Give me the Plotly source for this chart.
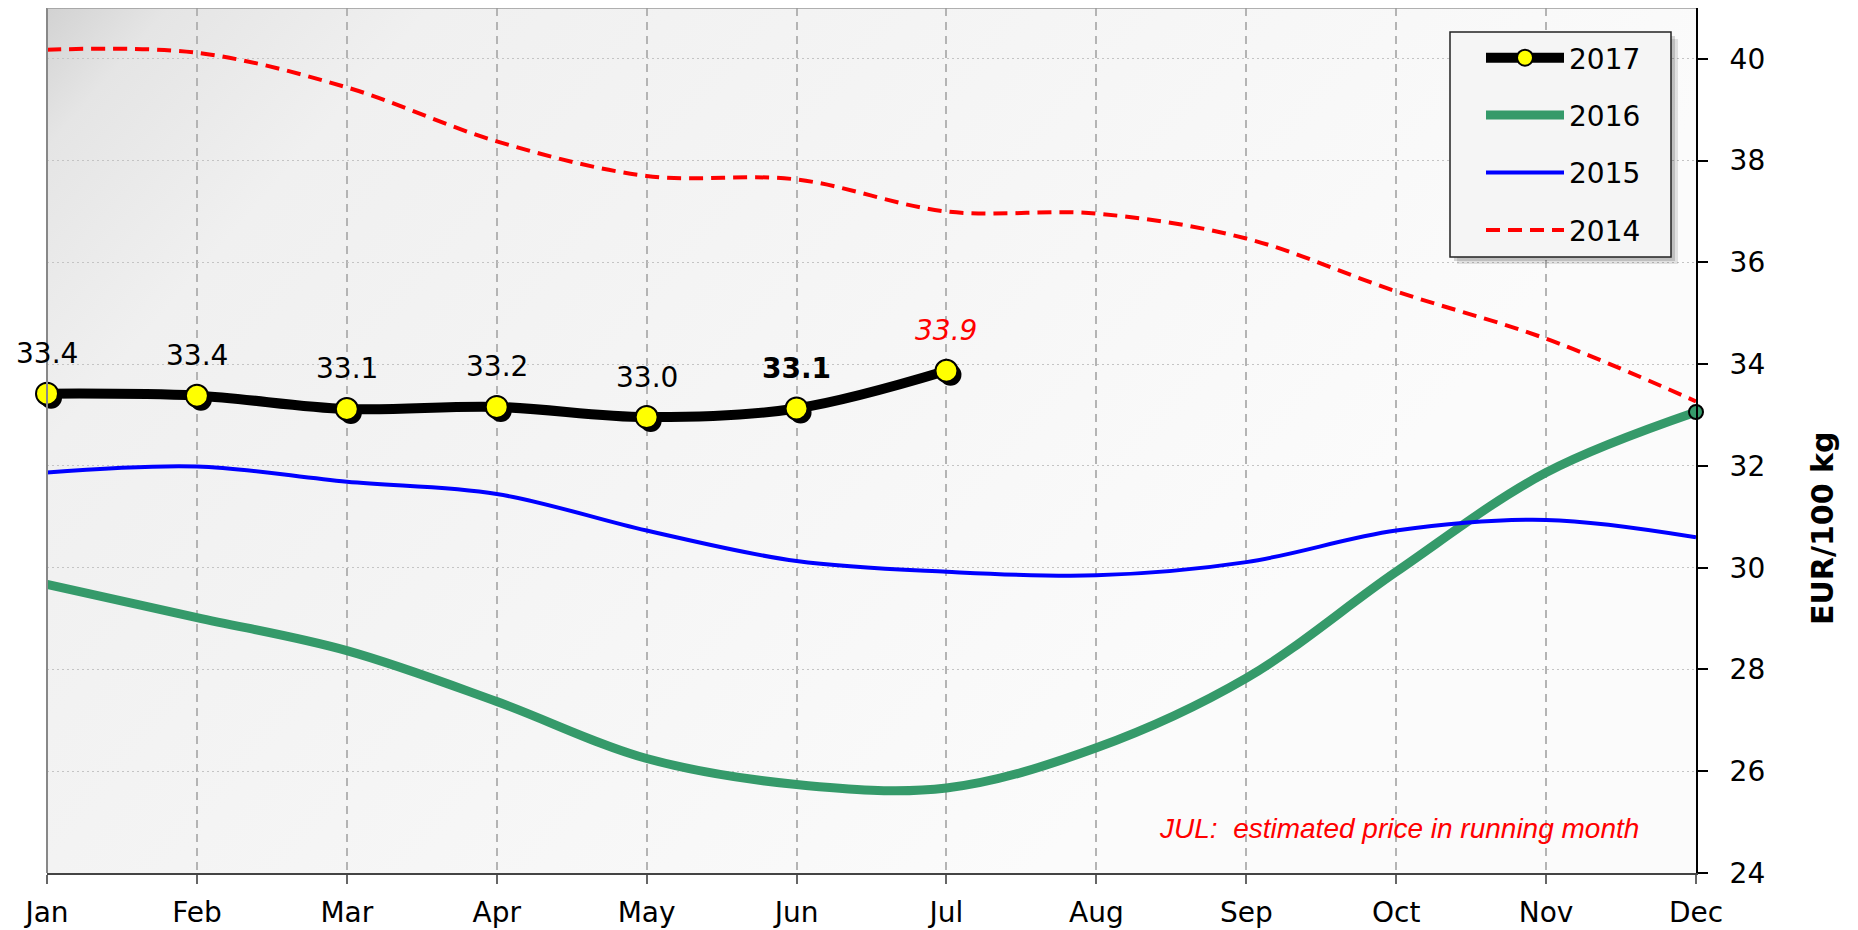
import base64
import plotly.graph_objects as go

# ---------------- data ----------------
months = ["Jan", "Feb", "Mar", "Apr", "May", "Jun", "Jul", "Aug", "Sep", "Oct", "Nov", "Dec"]
y2017 = [33.42, 33.38, 33.12, 33.16, 32.96, 33.13, 33.87]
labels2017 = ["33.4", "33.4", "33.1", "33.2", "33.0", "33.1", "33.9"]
y2016 = [29.67, 29.02, 28.37, 27.37, 26.25, 25.74, 25.67, 26.46, 27.83, 29.92, 31.87, 33.06]
y2015 = [31.87, 31.99, 31.69, 31.45, 30.73, 30.13, 29.92, 29.85, 30.11, 30.73, 30.94, 30.60]
y2014 = [40.18, 40.12, 39.44, 38.38, 37.70, 37.63, 37.00, 36.96, 36.47, 35.43, 34.50, 33.27]
y_ticks = [24, 26, 28, 30, 32, 34, 36, 38, 40]
note_text = "JUL:&nbsp;&nbsp;estimated price in running month"
y_title = "EUR/100 kg"

# ---------------- geometry ----------------
OFF = 8                      # default body margin of the html page
W, H = 1850, 922             # figure size (page 1858x930 minus body margin)
# plot area in page pixels
P_LEFT, P_RIGHT, P_TOP, P_BOTTOM = 47, 1696, 8, 873
L = P_LEFT - OFF
R = W - (P_RIGHT - OFF)
T = P_TOP - OFF
B = H - (P_BOTTOM - OFF)
PW, PH = W - L - R, H - T - B
Y_RANGE = [24, 41]
X_RANGE = [0, len(months) - 1]


def px(x):
    """page x pixel -> paper fraction"""
    return (x - OFF - L) / PW


def py(y):
    """page y pixel -> paper fraction"""
    return (H - B - (y - OFF)) / PH


FONT = "Verdana, DejaVu Sans, sans-serif"

# shadow offset in pixels -> axis units
SH = 4
dx = SH * (X_RANGE[1] - X_RANGE[0]) / PW
dy = SH * (Y_RANGE[1] - Y_RANGE[0]) / PH

fig = go.Figure()

# 2017 main (on overlay axis x3/y3 so it sits above the shadow)
fig.add_trace(go.Scatter(
    x=months[:len(y2017)], y=y2017, name="2017", mode="lines+markers",
    line=dict(color="black", width=10, shape="spline"),
    marker=dict(color="#ffff00", size=22, line=dict(color="black", width=2)),
    xaxis="x3", yaxis="y3", cliponaxis=False, legendgroup="a", hoverinfo="skip"))
fig.add_trace(go.Scatter(
    x=months, y=y2016, name="2016", mode="lines",
    line=dict(color="#359a6a", width=9, shape="spline"),
    legendgroup="b", hoverinfo="skip"))
fig.add_trace(go.Scatter(
    x=months, y=y2015, name="2015", mode="lines",
    line=dict(color="#0000ff", width=4, shape="spline"),
    legendgroup="c", hoverinfo="skip"))
fig.add_trace(go.Scatter(
    x=months, y=y2014, name="2014", mode="lines",
    line=dict(color="#ff0000", width=4, shape="spline", dash="14px,8px"),
    legendgroup="d", hoverinfo="skip"))
# 2016 end marker
fig.add_trace(go.Scatter(
    x=months[-1:], y=y2016[-1:], mode="markers", showlegend=False,
    marker=dict(color="#359a6a", size=14, line=dict(color="black", width=2)),
    cliponaxis=False, hoverinfo="skip"))
# 2017 marker shadow (shifted overlay axes)
fig.add_trace(go.Scatter(
    x=months[:len(y2017)], y=y2017, mode="markers", showlegend=False,
    marker=dict(color="black", size=22),
    xaxis="x2", yaxis="y2", cliponaxis=False, hoverinfo="skip"))

# data labels
annotations = []
n = len(y2017)
for i, (m, v, lab) in enumerate(zip(months, y2017, labels2017)):
    f = dict(family=FONT, size=28, color="black")
    txt = lab
    if i == n - 1:
        f["color"] = "#ff0000"
        txt = "<i>" + lab + "</i>"
    elif i == n - 2:
        txt = "<b>" + lab + "</b>"
    annotations.append(dict(x=m, y=v, xref="x", yref="y", text=txt, showarrow=False,
                            yshift=40, font=f))

annotations.append(dict(x=px(1641), y=py(828), xref="paper", yref="paper",
                        xanchor="right", yanchor="middle", showarrow=False,
                        text="<i>" + note_text + "</i>",
                        font=dict(family="Arial, Liberation Sans, sans-serif", size=28, color="#ff0000")))
annotations.append(dict(x=px(1822), y=py(529), xref="paper", yref="paper",
                        xanchor="center", yanchor="middle", showarrow=False, textangle=-90,
                        text="<b>" + y_title + "</b>",
                        font=dict(family=FONT, size=30, color="black")))

# background gradient
svg = (f'<svg xmlns="http://www.w3.org/2000/svg" width="{PW}" height="{PH}" viewBox="0 0 {PW} {PH}" '
       f'preserveAspectRatio="none"><defs><linearGradient id="g" gradientUnits="userSpaceOnUse" '
       f'x1="0" y1="0" x2="{PW * 0.6:.0f}" y2="{PH:.0f}">'
       '<stop offset="0" stop-color="#d2d2d2"/><stop offset="0.07" stop-color="#e5e5e5"/>'
       '<stop offset="0.22" stop-color="#f0f0f0"/><stop offset="1" stop-color="#fbfbfb"/>'
       f'</linearGradient></defs><rect width="{PW}" height="{PH}" fill="url(#g)"/></svg>')
bg_src = "data:image/svg+xml;base64," + base64.b64encode(svg.encode()).decode()

# legend box gradient
lsvg = ('<svg xmlns="http://www.w3.org/2000/svg" width="221" height="225" viewBox="0 0 221 225" '
        'preserveAspectRatio="none"><defs><linearGradient id="h" x1="0" y1="0" x2="1" y2="1">'
        '<stop offset="0" stop-color="#dedede"/><stop offset="0.25" stop-color="#f1f1f1"/>'
        '<stop offset="1" stop-color="#fbfbfb"/></linearGradient></defs>'
        '<rect width="221" height="225" fill="url(#h)"/></svg>')
lbg_src = "data:image/svg+xml;base64," + base64.b64encode(lsvg.encode()).decode()

# legend box
LB = dict(x0=1450, x1=1671, y0=32, y1=257)
shapes = [
    dict(type="rect", xref="paper", yref="paper", layer="above",
         x0=px(LB["x0"] + 7), x1=px(LB["x1"] + 7), y0=py(LB["y1"] + 7), y1=py(LB["y0"] + 7),
         fillcolor="rgba(0,0,0,0.10)", line=dict(width=0)),
    dict(type="rect", xref="paper", yref="paper", layer="above",
         x0=px(LB["x0"] + 4), x1=px(LB["x1"] + 4), y0=py(LB["y1"] + 4), y1=py(LB["y0"] + 4),
         fillcolor="rgba(0,0,0,0.15)", line=dict(width=0)),
    dict(type="rect", xref="paper", yref="paper", layer="above",
         x0=px(LB["x0"]), x1=px(LB["x1"]), y0=py(LB["y1"]), y1=py(LB["y0"]),
         fillcolor="#f5f5f5", line=dict(width=0)),
    dict(type="line", xref="paper", yref="paper", layer="above",
         x0=0, x1=0, y0=0, y1=1, line=dict(color="#888", width=2)),
    dict(type="line", xref="paper", yref="paper", layer="above",
         x0=0, x1=1, y0=1, y1=1, line=dict(color="#999", width=1.5)),
]

images = [
    dict(source=bg_src, xref="paper", yref="paper", x=0, y=1, sizex=1, sizey=1,
         xanchor="left", yanchor="top", sizing="stretch", layer="below"),
    dict(source=lbg_src, xref="paper", yref="paper", x=px(LB["x0"]), y=py(LB["y0"]),
         sizex=px(LB["x1"]) - px(LB["x0"]), sizey=py(LB["y0"]) - py(LB["y1"]),
         xanchor="left", yanchor="top", sizing="stretch", layer="above"),
]
# frame of legend box drawn above the gradient image
shapes_top = dict(type="rect", xref="paper", yref="paper", layer="above",
                  x0=px(LB["x0"]), x1=px(LB["x1"]), y0=py(LB["y1"]), y1=py(LB["y0"]),
                  fillcolor="rgba(0,0,0,0)", line=dict(color="#222", width=1.5))
shapes.append(shapes_top)

fig.update_layout(
    width=W, height=H,
    margin=dict(l=L, r=R, t=T, b=B, autoexpand=False),
    paper_bgcolor="white", plot_bgcolor="#f3f3f3",
    font=dict(family=FONT, size=28, color="black"),
    showlegend=True,
    legend=dict(x=px(1481), y=py(33), xanchor="left", yanchor="top",
                bgcolor="rgba(0,0,0,0)", borderwidth=0,
                font=dict(family=FONT, size=28, color="black"),
                itemwidth=78, tracegroupgap=18, traceorder="grouped"),
    xaxis=dict(type="category", categoryarray=months, range=X_RANGE,
               showline=True, linecolor="#444", linewidth=2,
               ticks="outside", ticklen=9, tickcolor="#666", tickwidth=1.5,
               ticklabelstandoff=4,
               showgrid=True, gridcolor="#b4b4b4", gridwidth=1.5, griddash="8px,6px",
               tickfont=dict(size=28), zeroline=False, fixedrange=True),
    yaxis=dict(side="right", range=Y_RANGE, tickvals=y_ticks,
               showline=True, linecolor="black", linewidth=2,
               ticks="outside", ticklen=10, tickcolor="black", tickwidth=1.5,
               ticklabelstandoff=16,
               showgrid=True, gridcolor="#c4c4c4", gridwidth=1, griddash="2px,3px",
               tickfont=dict(size=28), zeroline=False, fixedrange=True),
    xaxis2=dict(overlaying="x", type="category", categoryarray=months,
                range=[X_RANGE[0] - dx, X_RANGE[1] - dx], visible=False, showgrid=False),
    yaxis2=dict(overlaying="y", range=[Y_RANGE[0] + dy, Y_RANGE[1] + dy], visible=False, showgrid=False),
    xaxis3=dict(overlaying="x", type="category", categoryarray=months,
                range=X_RANGE, visible=False, showgrid=False),
    yaxis3=dict(overlaying="y", range=Y_RANGE, visible=False, showgrid=False),
    annotations=annotations,
    shapes=shapes,
    images=images,
)

fig.write_html("out.html")
